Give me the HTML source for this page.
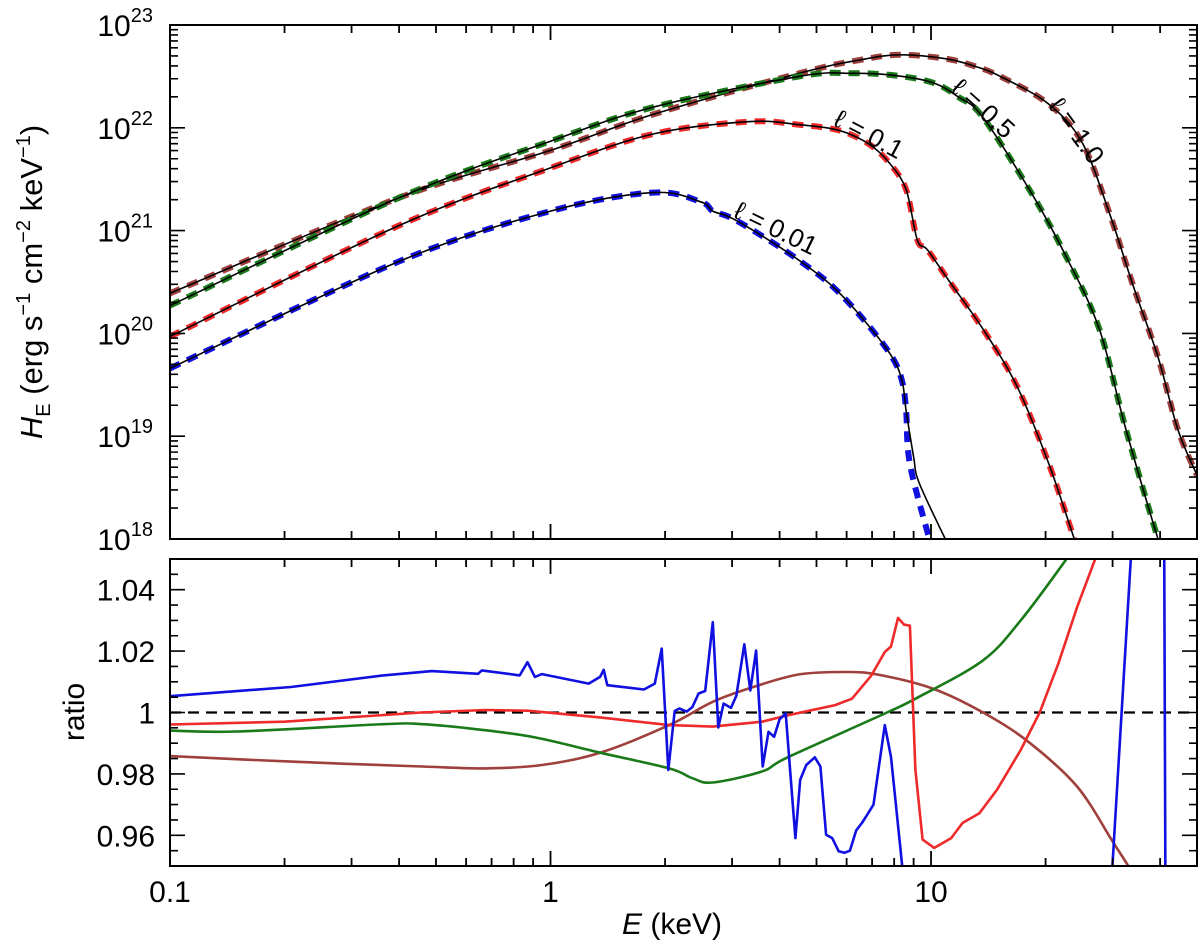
<!DOCTYPE html>
<html><head><meta charset="utf-8">
<style>
html,body{margin:0;padding:0;background:#fff;overflow:hidden;width:1200px;height:948px;}
svg{display:block;font-family:"Liberation Sans",Arial,sans-serif;}
</style></head>
<body>
<svg id="chart" width="1200" height="948" viewBox="0 0 1200 948" xmlns="http://www.w3.org/2000/svg">
<defs>
<clipPath id="clipTop"><rect x="170" y="25" width="1027" height="514"/></clipPath>
<clipPath id="clipBot"><rect x="170" y="559" width="1027" height="307"/></clipPath>
</defs>
<g id="topPanel"></g>
<g id="botPanel"></g>
<text transform="translate(42,282) rotate(-90)" text-anchor="middle" font-size="31"><tspan font-style="italic">H</tspan><tspan font-size="20" dy="8">E</tspan><tspan dy="-8"> (erg s</tspan><tspan font-size="20" dy="-12">−1</tspan><tspan dy="12"> cm</tspan><tspan font-size="20" dy="-12">−2</tspan><tspan dy="12"> keV</tspan><tspan font-size="20" dy="-12">−1</tspan><tspan dy="12">)</tspan></text>
<text transform="translate(84,712) rotate(-90)" text-anchor="middle" font-size="30">ratio</text>
<text x="672" y="934" text-anchor="middle" font-size="30"><tspan font-style="italic">E</tspan> (keV)</text>
</svg>
<script>
// ---------- data: top panel (log10 H_E) ----------
const E_l1 = [0.1,0.4,1.0,1.86,4.5,6.5,8.3,11,13,15.2,20.4,25,29.5,34,39.5,44.5,50];
const H_l1 = [20.39,21.32,21.78,22.13,22.53,22.66,22.71,22.67,22.60,22.50,22.23,21.85,21.16,20.46,19.77,19.07,18.62];
const E_l05 = [0.1,0.4,1.0,1.86,4.5,6.2,8,10.1,11.8,13.7,18.6,22.7,27.7,32.5,39.5,41];
const H_l05 = [20.27,21.32,21.87,22.20,22.50,22.53,22.51,22.44,22.30,22.10,21.33,20.74,20.04,19.07,18.0,17.85];
const E_l01 = [0.1,0.4,1.0,1.86,3.34,4.5,5.5,6.2,7.0,7.8,8.6,9.2,9.8,11.2,13.7,16.8,20.4,23.8,24.4];
const H_l01 = [19.97,21.05,21.61,21.94,22.06,22.03,21.99,21.93,21.82,21.65,21.40,20.91,20.81,20.50,20.04,19.49,18.73,18.0,17.9];
const E_l001 = [0.1,0.4,1.0,1.86,2.48,2.67,3.0,3.7,4.5,5.5,6.7,7.9,8.4,8.6,8.8,9.9,10.1];
const H_l001 = [19.66,20.70,21.19,21.37,21.28,21.19,21.12,20.92,20.71,20.46,20.12,19.77,19.53,19.25,18.73,18.0,17.9];
const E_l001m = [0.1,0.4,1.0,1.86,2.48,2.67,3.0,3.7,4.5,5.5,6.7,7.9,8.4,8.6,9.0,9.3,10.9,11.1];
const H_l001m = [19.66,20.70,21.19,21.37,21.28,21.19,21.12,20.92,20.71,20.46,20.12,19.77,19.53,19.25,18.80,18.55,18.0,17.95];
// ---------- data: ratio panel ----------
const E_rb = [0.1,0.208,0.363,0.488,0.645,0.66,0.83,0.87,0.91,0.95,1.26,1.35,1.38,1.41,1.76,1.88,1.96,2.04,2.12,2.18,2.28,2.36,2.45,2.55,2.67,2.76,2.85,2.98,3.08,3.23,3.35,3.47,3.61,3.74,3.87,4.0,4.15,4.40,4.53,4.70,4.95,5.12,5.3,5.5,5.72,5.92,6.12,6.36,6.58,6.82,7.06,7.56,7.85,8.4,8.6,29.8,33.5,34,41,41.3];
const R_rb = [1.0053,1.0083,1.0121,1.0135,1.0126,1.0137,1.0121,1.0164,1.0116,1.0125,1.0094,1.0116,1.0139,1.0089,1.0075,1.0094,1.0208,0.9813,1.0005,1.0013,1.0003,1.0018,1.0062,1.007,1.0294,0.9951,1.0029,1.0015,1.0055,1.0222,1.0072,1.0202,0.9824,0.9937,0.9921,0.9978,0.9997,0.9591,0.9781,0.9829,0.9854,0.9824,0.9602,0.9591,0.9548,0.9543,0.955,0.9616,0.964,0.967,0.970,0.9959,0.9855,0.95,0.945,0.945,1.05,1.055,1.055,0.945];
const E_rr = [0.1,0.2,0.457,0.676,0.87,1.35,2.05,2.67,3.6,4.2,5.6,6.2,6.97,7.56,7.85,8.19,8.5,8.8,9.1,9.5,10.2,11.3,12.1,13.4,14.9,17.2,19.3,21.6,24.2,27,28];
const R_rr = [0.9961,0.997,1.0,1.0008,1.0006,0.9984,0.9959,0.9954,0.997,0.9991,1.0024,1.0045,1.0121,1.0197,1.0215,1.0308,1.0286,1.0283,0.9813,0.9586,0.9559,0.9591,0.964,0.9672,0.9748,0.9878,1.0,1.0159,1.0343,1.05,1.055];
const E_rg = [0.1,0.15,0.363,0.46,0.645,0.91,1.35,2.05,2.36,2.67,3.6,4.2,7.66,9.3,13.7,17.2,22.7,24];
const R_rg = [0.9941,0.9938,0.9962,0.9962,0.9945,0.9919,0.9869,0.9818,0.9786,0.9772,0.9808,0.9854,1.0,1.0051,1.017,1.03,1.05,1.055];
const E_rn = [0.1,0.208,0.46,0.676,0.95,1.35,2.05,2.67,3.45,4.5,5.9,7.2,10.1,13.7,18,24.2,30,33,34];
const R_rn = [0.9858,0.984,0.9824,0.9818,0.9829,0.9869,0.9959,1.0035,1.0085,1.0124,1.0132,1.0124,1.0078,1.0,0.9905,0.9759,0.958,0.95,0.947];
const xTickLabels = ["0.1","1","10"];
const yTopTickExps = ["18","19","20","21","22","23"];
const yBotTickLabels = ["0.96","0.98","1","1.02","1.04"];
const curveLabels = ["ℓ = 0.01","ℓ = 0.1","ℓ = 0.5","ℓ = 1.0"];

// ---------- axes ----------
const L=170,R=1197,T1=25,B1=539,T2=559,B2=866;
const NS="http://www.w3.org/2000/svg";
const xs = e => L + (Math.log10(e)+1)*(R-L)/Math.log10(500);
const yTop = h => T1 + (23-h)*(B1-T1)/5;
const yBot = r => T2 + (1.05-r)*(B2-T2)/0.10;
function mk(tag, attrs, parent){const el=document.createElementNS(NS,tag);for(const k in attrs)el.setAttribute(k,attrs[k]);parent.appendChild(el);return el;}
const topG=document.getElementById('topPanel'), botG=document.getElementById('botPanel');

function path(E,V,yf){return E.map((e,i)=>(i?'L':'M')+Math.min(xs(e),1199).toFixed(1)+','+yf(V[i]).toFixed(1)).join('');}
function smooth(E,V,yf){
  const P=E.map((e,i)=>[xs(e),yf(V[i])]);
  let d='M'+P[0][0].toFixed(1)+','+P[0][1].toFixed(1);
  for(let i=0;i<P.length-1;i++){
    const p0=P[i-1]||P[i],p1=P[i],p2=P[i+1],p3=P[i+2]||P[i+1];
    const t=1/6;
    const c1=[p1[0]+(p2[0]-p0[0])*t,p1[1]+(p2[1]-p0[1])*t];
    const c2=[p2[0]-(p3[0]-p1[0])*t,p2[1]-(p3[1]-p1[1])*t];
    d+=`C${c1[0].toFixed(1)},${c1[1].toFixed(1)} ${c2[0].toFixed(1)},${c2[1].toFixed(1)} ${p2[0].toFixed(1)},${p2[1].toFixed(1)}`;
  }
  return d;
}

// top curves
const gTopC = mk('g',{'clip-path':'url(#clipTop)'},topG);


const topSeries=[[E_l1,H_l1,'#a0403c',E_l1,H_l1,'curve-l1'],[E_l05,H_l05,'#1a7a1a',E_l05,H_l05,'curve-l05'],[E_l01,H_l01,'#ee2a2a',E_l01,H_l01,'curve-l01'],[E_l001,H_l001,'#1010e0',E_l001m,H_l001m,'curve-l001']];
topSeries.forEach(s=>{
  const d=mk('path',{d:smooth(s[0],s[1],yTop),fill:'none',stroke:s[2],'stroke-width':6,'stroke-dasharray':'11 8'},gTopC);
  
  
  const m=mk('path',{d:smooth(s[3],s[4],yTop),fill:'none',stroke:'#000','stroke-width':1.6},gTopC);
  
  
});
// curve labels
const lblPos=[[775,230,26],[868,136,28],[982,110,42],[1075,132,54]];
curveLabels.forEach((t,i)=>{
  const p=lblPos[i];
  const el=mk('text',{transform:`translate(${p[0]},${p[1]}) rotate(${p[2]})`,'text-anchor':'middle','font-size':26,'dominant-baseline':'middle'},topG);
  el.textContent=t;
  
  
});

// bottom curves
const gBotC = mk('g',{'clip-path':'url(#clipBot)'},botG);


const ref=mk('line',{x1:L,x2:R,y1:yBot(1),y2:yBot(1),stroke:'#000','stroke-width':2.2,'stroke-dasharray':'11 7'},gBotC);


[[E_rn,R_rn,'#a0403c','ratio-l1',true],[E_rg,R_rg,'#1a7a1a','ratio-l05',true],[E_rr,R_rr,'#ee2a2a','ratio-l01',false],[E_rb,R_rb,'#1010e0','ratio-l001',false]].forEach(s=>{
  const p=mk('path',{d:(s[4]?smooth:path)(s[0],s[1],yBot),fill:'none',stroke:s[2],'stroke-width':2.6,'stroke-linejoin':'round'},gBotC);
  
  
});

// frames and ticks
function frame(g,t,b,name){
  const f=mk('rect',{x:L,y:t,width:R-L,height:b-t,fill:'none',stroke:'#000','stroke-width':2},g);
  
  
  let d='';
  for(let dec=-1;dec<=1;dec++){for(let m=1;m<=9;m++){const e=m*Math.pow(10,dec);if(e>50.01)continue;const x=xs(e);const len=m===1?15:8;if(x>R-1)continue;d+=`M${x},${b}v${-len}M${x},${t}v${len}`;}}
  const tk=mk('path',{d:d,stroke:'#000','stroke-width':1.8,fill:'none'},g);
  
  
}
frame(topG,T1,B1,'spectrum-frame');
frame(botG,T2,B2,'ratio-frame');
// top y ticks
let dy='';
for(let dec=18;dec<23;dec++){for(let m=1;m<=9;m++){const y=yTop(dec+Math.log10(m));const len=m===1?15:8;dy+=`M${L},${y}h${len}M${R},${y}h${-len}`;}}
const tyt=mk('path',{d:dy,stroke:'#000','stroke-width':1.6,fill:'none'},topG);


yTopTickExps.forEach(ex=>{
  const t=mk('text',{x:153,y:yTop(+ex)+11,'text-anchor':'end','font-size':30},topG);
  t.innerHTML=`10<tspan font-size="20" dy="-14">${ex}</tspan>`;
  
  
});
// bottom y ticks
let db='';
for(let i=0;i<=20;i++){const r=0.95+i*0.005;const y=yBot(r);const maj=(i%4===2);const len=maj?15:8;db+=`M${L},${y}h${len}M${R},${y}h${-len}`;}
const byt=mk('path',{d:db,stroke:'#000','stroke-width':1.6,fill:'none'},botG);


yBotTickLabels.forEach(s=>{
  const t=mk('text',{x:155,y:yBot(+s)+11,'text-anchor':'end','font-size':30},botG);
  t.textContent=s;
  
  
});
xTickLabels.forEach(s=>{
  const t=mk('text',{x:xs(+s),y:902,'text-anchor':'middle','font-size':30},botG);
  t.textContent=s;
  
  
});
</script>
</body></html>
